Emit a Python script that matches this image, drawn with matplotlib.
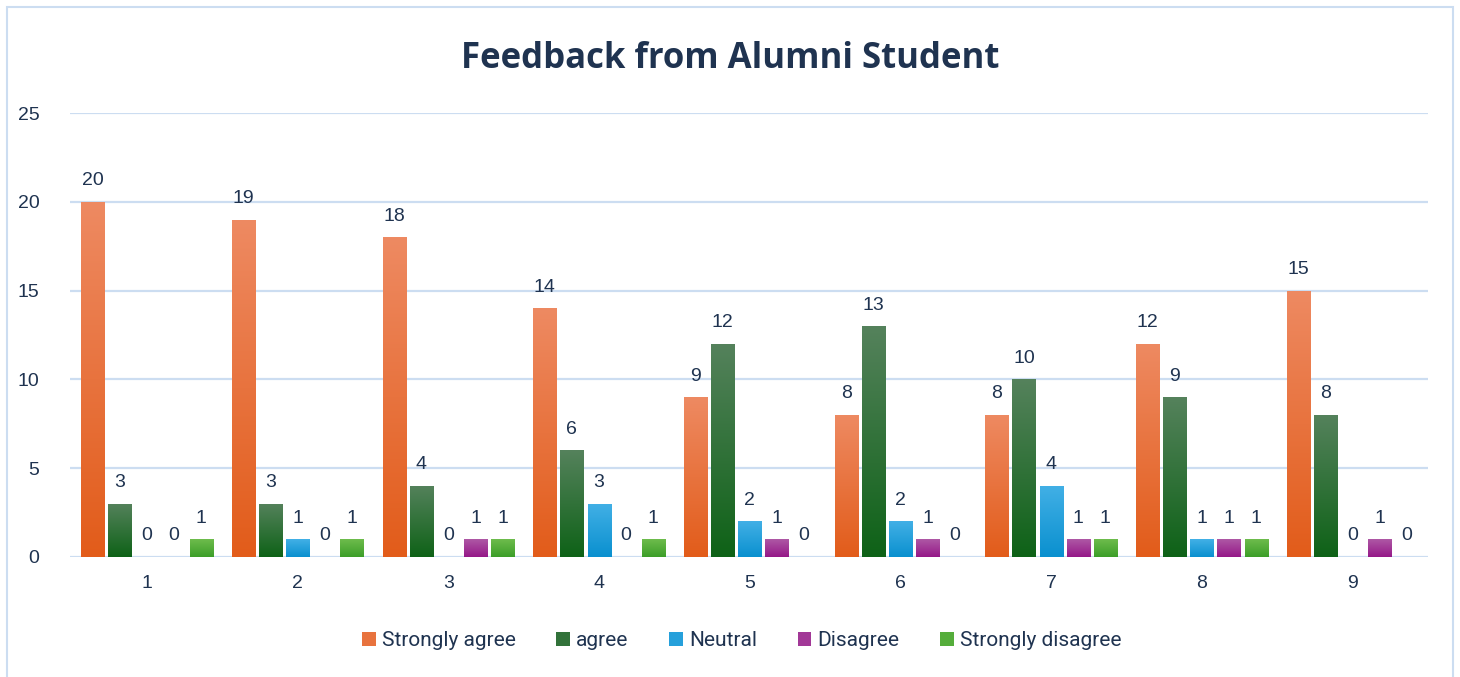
import matplotlib
matplotlib.use('Agg')
import matplotlib.pyplot as plt
from matplotlib.colors import LinearSegmentedColormap
from matplotlib.patches import Rectangle
import numpy as np

# Data
questions = ['1', '2', '3', '4', '5', '6', '7', '8', '9']
series_names = ['Strongly agree', 'agree', 'Neutral', 'Disagree', 'Strongly disagree']
strongly_agree = [20, 19, 18, 14, 9, 8, 8, 12, 15]
agree = [3, 3, 4, 6, 12, 13, 10, 9, 8]
neutral = [0, 1, 0, 3, 2, 2, 4, 1, 0]
disagree = [0, 0, 1, 0, 1, 1, 1, 1, 1]
strongly_disagree = [1, 1, 1, 1, 0, 0, 1, 1, 0]

# (top colour, bottom colour) of each gradient fill
grad_colors = [('#EE8A62', '#E25C1A'),
               ('#55825C', '#0E6217'),
               ('#42B0E6', '#0A90CF'),
               ('#AE58A5', '#951888'),
               ('#6EBC4D', '#3C9E28')]

text_color = '#1F3350'
grid_color = '#CCDDF1'

fig = plt.figure(figsize=(14.6, 6.77), dpi=100)
ax = fig.add_axes([0.048, 0.1773, 0.930, 0.6557])

x = np.arange(1, len(questions) + 1)
step = 0.18
width = 0.153
all_series = [strongly_agree, agree, neutral, disagree, strongly_disagree]

handles = []
for i, (vals, name) in enumerate(zip(all_series, series_names)):
    top, bottom = grad_colors[i]
    cmap = LinearSegmentedColormap.from_list(name, [bottom, top])
    xs = x + (i - 2) * step
    bars = ax.bar(xs, vals, width=width, color=top, edgecolor='none', zorder=2)
    for b in bars:
        h = b.get_height()
        if h > 0:
            x0 = b.get_x()
            grad = np.linspace(0, 1, 256).reshape(-1, 1)
            im = ax.imshow(grad, cmap=cmap, origin='lower', aspect='auto',
                           extent=(x0, x0 + b.get_width(), 0, h), zorder=3)
            im.set_clip_path(b)
        ax.annotate(str(int(h)), (b.get_x() + b.get_width() / 2, h),
                    xytext=(0, 9), textcoords='offset points',
                    ha='center', va='bottom', fontsize=14, color=text_color,
                    family='Liberation Sans')
    handles.append(Rectangle((0, 0), 1, 1, facecolor=cmap(0.5), edgecolor='none'))

ax.set_xlim(0.49, 9.5)
ax.set_ylim(0, 25)
ax.set_yticks(range(0, 26, 5))
ax.set_xticks(x)
ax.set_xticklabels(questions)
ax.tick_params(length=0, labelsize=14, labelcolor=text_color, pad=13)
ax.tick_params(axis='y', pad=22)
for lbl in ax.get_xticklabels() + ax.get_yticklabels():
    lbl.set_family('Liberation Sans')
ax.yaxis.grid(True, color=grid_color, linewidth=1.6, zorder=0)
ax.set_axisbelow(True)
for s in ax.spines.values():
    s.set_visible(False)

fig.suptitle('Feedback from Alumni Student', x=0.5, y=0.94, fontsize=25,
             fontweight='bold', color=text_color, family='Open Sans')

fig.legend(handles, series_names, loc='center', bbox_to_anchor=(0.508, 0.054),
           ncol=5, frameon=False, labelcolor=text_color,
           handlelength=0.65, handleheight=0.65, handletextpad=0.3,
           columnspacing=1.95, prop={'family': 'Roboto', 'size': 15})

# light blue chart frame
fig.patches.append(Rectangle((7 / 1460, -0.01), 1446 / 1460, 1 - 7 / 677 + 0.01,
                             transform=fig.transFigure, fill=False,
                             edgecolor=grid_color, linewidth=1.5))

fig.savefig('out.png', dpi=100)
